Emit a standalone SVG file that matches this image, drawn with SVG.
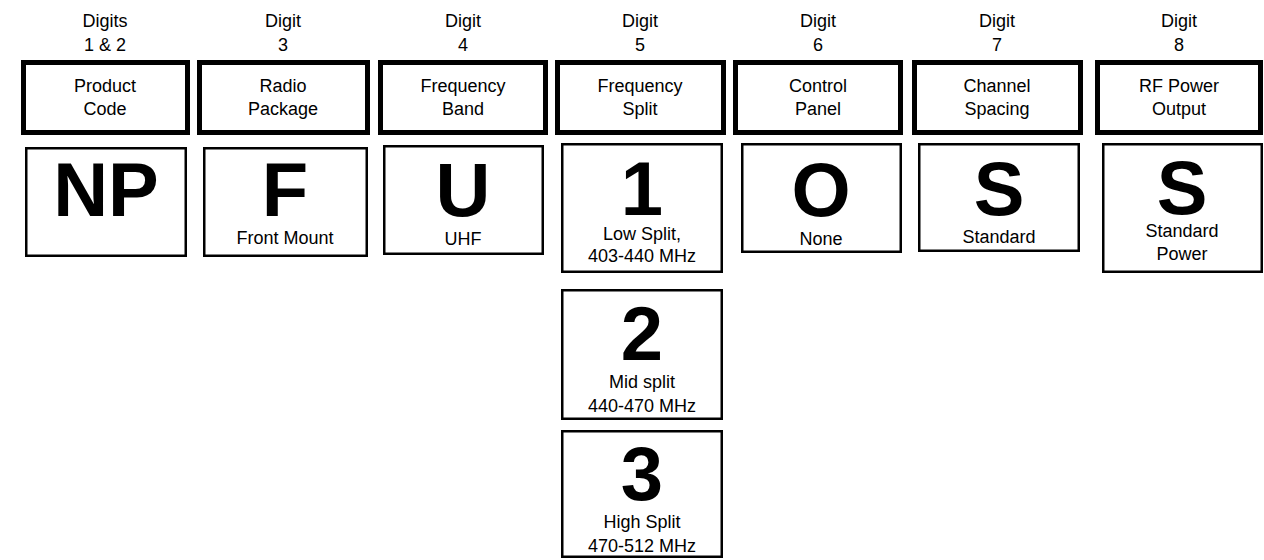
<svg xmlns="http://www.w3.org/2000/svg" width="1264" height="560" viewBox="0 0 1264 560">
<style>
  .hdr { fill: #fff; stroke: #000; stroke-width: 5; }
  .val { fill: #fff; stroke: #000; stroke-width: 2.5; }
  text { font-family: "Liberation Sans", Arial, sans-serif; fill: #000; text-anchor: middle; }
  .lbl { font-size: 18px; }
  .big { font-size: 76px; font-weight: bold; }
</style>
<rect width="1264" height="560" fill="#fff"/>
<g id="connectors"></g>

<g id="digit-1-2">
  <text class="lbl" x="105" y="27">Digits</text>
  <text class="lbl" x="105" y="51">1 &amp; 2</text>
  <rect class="hdr" x="23.5" y="62.5" width="164" height="70"/>
  <text class="lbl" x="105" y="92">Product</text>
  <text class="lbl" x="105" y="115">Code</text>
  <rect class="val" x="26.25" y="148.25" width="159.5" height="107.5"/>
  <text class="big" x="106" y="216">NP</text>
</g>

<g id="digit-3">
  <text class="lbl" x="283" y="27">Digit</text>
  <text class="lbl" x="283" y="51">3</text>
  <rect class="hdr" x="199.5" y="62.5" width="168" height="70"/>
  <text class="lbl" x="283" y="92">Radio</text>
  <text class="lbl" x="283" y="115">Package</text>
  <rect class="val" x="204.25" y="148.25" width="162.5" height="107.5"/>
  <text class="big" x="285" y="216">F</text>
  <text class="lbl" x="285" y="244">Front Mount</text>
</g>

<g id="digit-4">
  <text class="lbl" x="463" y="27">Digit</text>
  <text class="lbl" x="463" y="51">4</text>
  <rect class="hdr" x="380.5" y="62.5" width="165" height="70"/>
  <text class="lbl" x="463" y="92">Frequency</text>
  <text class="lbl" x="463" y="115">Band</text>
  <rect class="val" x="384.25" y="146.25" width="158.5" height="107.5"/>
  <text class="big" x="463" y="216">U</text>
  <text class="lbl" x="463" y="245">UHF</text>
</g>

<g id="digit-5">
  <text class="lbl" x="640" y="27">Digit</text>
  <text class="lbl" x="640" y="51">5</text>
  <rect class="hdr" x="557.5" y="62.5" width="166" height="70"/>
  <text class="lbl" x="640" y="92">Frequency</text>
  <text class="lbl" x="640" y="115">Split</text>
  <rect class="val" x="562.25" y="144.25" width="159.5" height="127.5"/>
  <text class="big" x="642" y="215">1</text>
  <text class="lbl" x="642" y="240">Low Split,</text>
  <text class="lbl" x="642" y="262">403-440 MHz</text>
</g>

<g id="digit-5-option-2">
  <rect class="val" x="562.25" y="290.25" width="159.5" height="128.5"/>
  <text class="big" x="642" y="360">2</text>
  <text class="lbl" x="642" y="388">Mid split</text>
  <text class="lbl" x="642" y="412">440-470 MHz</text>
</g>

<g id="digit-5-option-3">
  <rect class="val" x="562.25" y="431.25" width="159.5" height="125.5"/>
  <text class="big" x="642" y="500">3</text>
  <text class="lbl" x="642" y="528">High Split</text>
  <text class="lbl" x="642" y="552">470-512 MHz</text>
</g>

<g id="digit-6">
  <text class="lbl" x="818" y="27">Digit</text>
  <text class="lbl" x="818" y="51">6</text>
  <rect class="hdr" x="735.5" y="62.5" width="165" height="70"/>
  <text class="lbl" x="818" y="92">Control</text>
  <text class="lbl" x="818" y="115">Panel</text>
  <rect class="val" x="742.25" y="144.25" width="158.5" height="107.5"/>
  <text class="big" x="821" y="216">O</text>
  <text class="lbl" x="821" y="245">None</text>
</g>

<g id="digit-7">
  <text class="lbl" x="997" y="27">Digit</text>
  <text class="lbl" x="997" y="51">7</text>
  <rect class="hdr" x="914.5" y="62.5" width="166" height="70"/>
  <text class="lbl" x="997" y="92">Channel</text>
  <text class="lbl" x="997" y="115">Spacing</text>
  <rect class="val" x="919.25" y="144.25" width="159.5" height="106.5"/>
  <text class="big" x="999" y="215">S</text>
  <text class="lbl" x="999" y="243">Standard</text>
</g>

<g id="digit-8">
  <text class="lbl" x="1179" y="27">Digit</text>
  <text class="lbl" x="1179" y="51">8</text>
  <rect class="hdr" x="1097.5" y="62.5" width="163" height="70"/>
  <text class="lbl" x="1179" y="92">RF Power</text>
  <text class="lbl" x="1179" y="115">Output</text>
  <rect class="val" x="1103.25" y="144.25" width="158.5" height="127.5"/>
  <text class="big" x="1182" y="214">S</text>
  <text class="lbl" x="1182" y="237">Standard</text>
  <text class="lbl" x="1182" y="260">Power</text>
</g>
</svg>
